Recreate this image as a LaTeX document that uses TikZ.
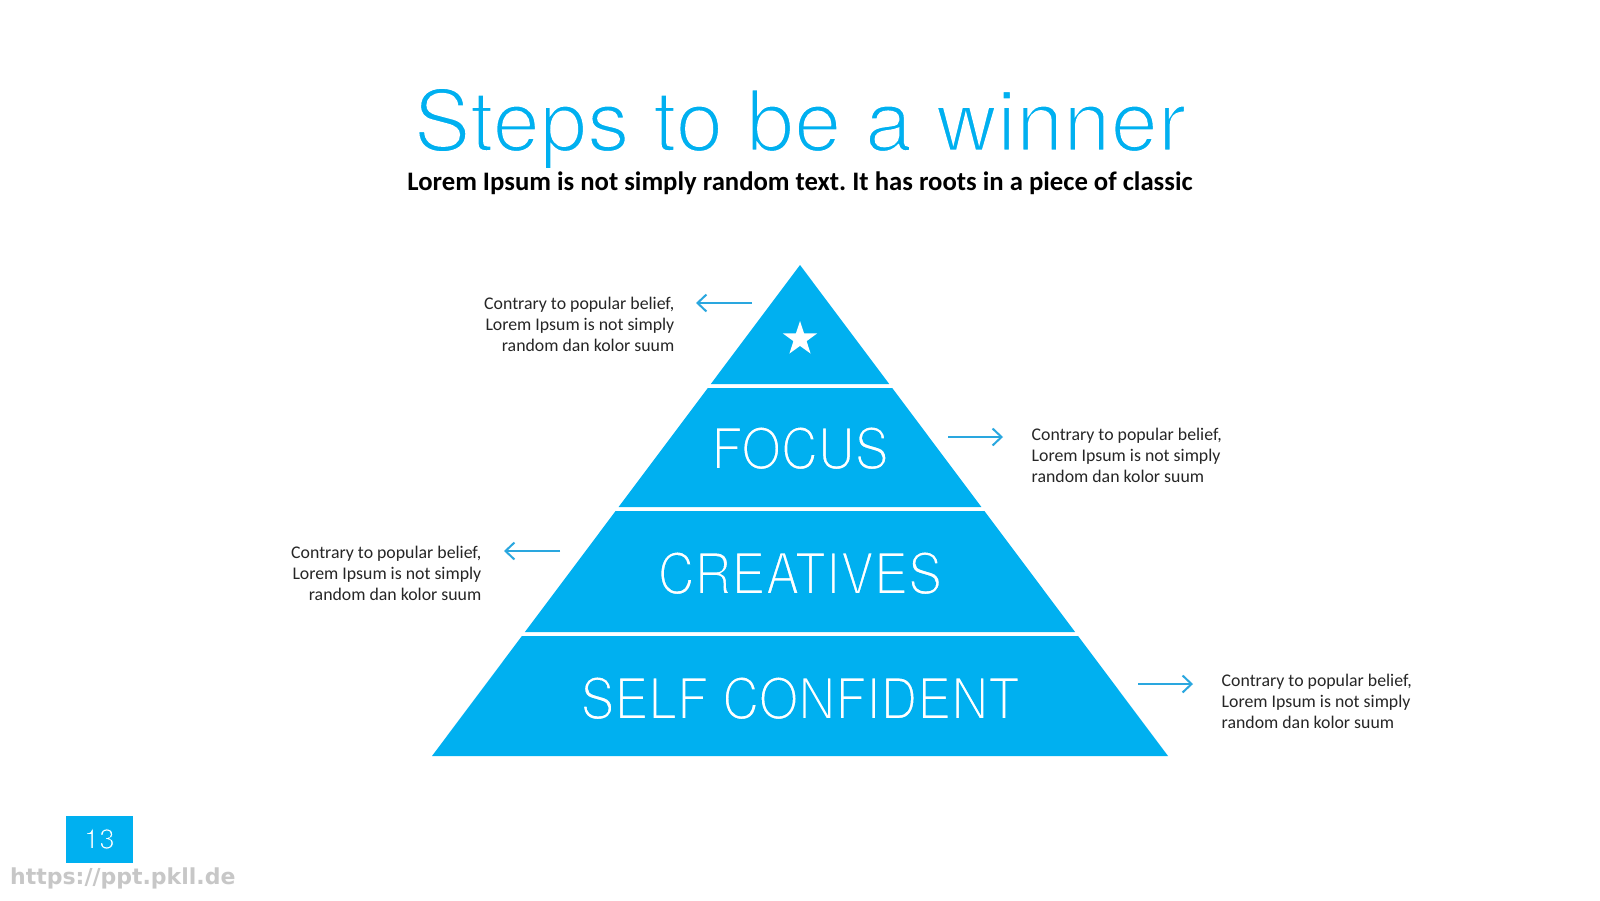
\documentclass[tikz,border=0pt]{standalone}
\usepackage{fontspec}
\setmainfont{Carlito}
\newfontfamily\heroslab[FakeStretch=0.895]{TeX Gyre Heros}
\newfontfamily\herostitle{TeX Gyre Heros}
\newfontfamily\dejab{DejaVu Sans}
\usetikzlibrary{arrows.meta,shapes.geometric}
\definecolor{pyr}{HTML}{00B0F0}
\definecolor{arr}{HTML}{2AA7DF}
\definecolor{txt}{HTML}{262626}
% thin the glyphs by stroking them with the background colour
\newcommand{\thinglyphs}[3]{\special{pdf:literal direct 2 Tr #1 RG #2 w}#3\special{pdf:literal direct 0 Tr}}
\tikzset{
  tier/.style={fill=pyr,draw=none},
  tierlabel/.style={text=white,anchor=base,inner sep=0pt,font=\heroslab\fontsize{57}{60}\selectfont},
  desc/.style={text=txt,inner sep=0pt,font=\fontsize{17.8}{21}\selectfont},
  pointer/.style={draw=arr,line width=2pt,-{Straight Barb[length=9pt,width=17pt,line width=2pt]}},
}
\begin{document}
\frenchspacing
\begin{tikzpicture}[x=1pt,y=-1pt]
\useasboundingbox[fill=white] (0,0) rectangle (1600,900);
% title
\node[anchor=base,inner sep=0pt,text=pyr,font=\herostitle\fontsize{85}{90}\selectfont] (title) at (800,151) {\thinglyphs{1 1 1}{2.6}{Steps to be a winner}};
\node[anchor=base,inner sep=0pt,text=black,font=\bfseries\fontsize{26.7}{30}\selectfont] (subtitle) at (800,190) {Lorem Ipsum is not simply random text. It has roots in a piece of classic};
% pyramid tiers
\path[tier] (800,265) -- (889.2,384) -- (710.8,384) -- cycle;
\path[tier] (707.8,388) -- (892.2,388) -- (981.4,507) -- (618.6,507) -- cycle;
\path[tier] (615.6,511) -- (984.4,511) -- (1075.1,632) -- (524.9,632) -- cycle;
\path[tier] (521.9,636) -- (1078.1,636) -- (1168,756) -- (432,756) -- cycle;
\node[star,star points=5,star point ratio=2.6,minimum size=36pt,inner sep=0pt,fill=white] (star) at (800,339) {};
\node[tierlabel] (focus) at (800,469) {\thinglyphs{0 0.69 0.94}{2}{FOCUS}};
\node[tierlabel] (creatives) at (800,594) {\thinglyphs{0 0.69 0.94}{2}{CREATIVES}};
\node[tierlabel] (self) at (800,719) {\thinglyphs{0 0.69 0.94}{2}{SELF CONFIDENT}};
% descriptions (base anchor = baseline of the last line)
\node[desc,anchor=base east,align=right] (d1) at (674.5,351) {Contrary to popular belief,\\Lorem Ipsum is not simply\\random dan kolor suum};
\node[desc,anchor=base west,align=left] (d2) at (1031.5,482) {Contrary to popular belief,\\Lorem Ipsum is not simply\\random dan kolor suum};
\node[desc,anchor=base east,align=right] (d3) at (481.5,600) {Contrary to popular belief,\\Lorem Ipsum is not simply\\random dan kolor suum};
\node[desc,anchor=base west,align=left] (d4) at (1221.5,728) {Contrary to popular belief,\\Lorem Ipsum is not simply\\random dan kolor suum};
% arrows
\coordinate (a1s) at (752,303); \coordinate (a1e) at (696,303);
\coordinate (a2s) at (948,437); \coordinate (a2e) at (1003,437);
\coordinate (a3s) at (560,551); \coordinate (a3e) at (504,551);
\coordinate (a4s) at (1138,684); \coordinate (a4e) at (1193,684);
\draw[pointer] (a1s) -- (a1e);
\draw[pointer] (a2s) -- (a2e);
\draw[pointer] (a3s) -- (a3e);
\draw[pointer] (a4s) -- (a4e);
% page number
\node[fill=pyr,minimum width=67.5pt,minimum height=47pt,inner sep=0pt,anchor=north west] (pagebox) at (65.3,815.3) {};
\node[text=white,font=\herostitle\fontsize{28}{30}\selectfont,inner sep=0pt] (pagenum) at (pagebox.center) {\thinglyphs{0 0.69 0.94}{1}{13}};
\node[anchor=base west,inner sep=0pt,text=black!22,font=\dejab\bfseries\fontsize{22}{24}\selectfont] (url) at (10,884) {https://ppt.pkll.de};
\end{tikzpicture}
\end{document}
